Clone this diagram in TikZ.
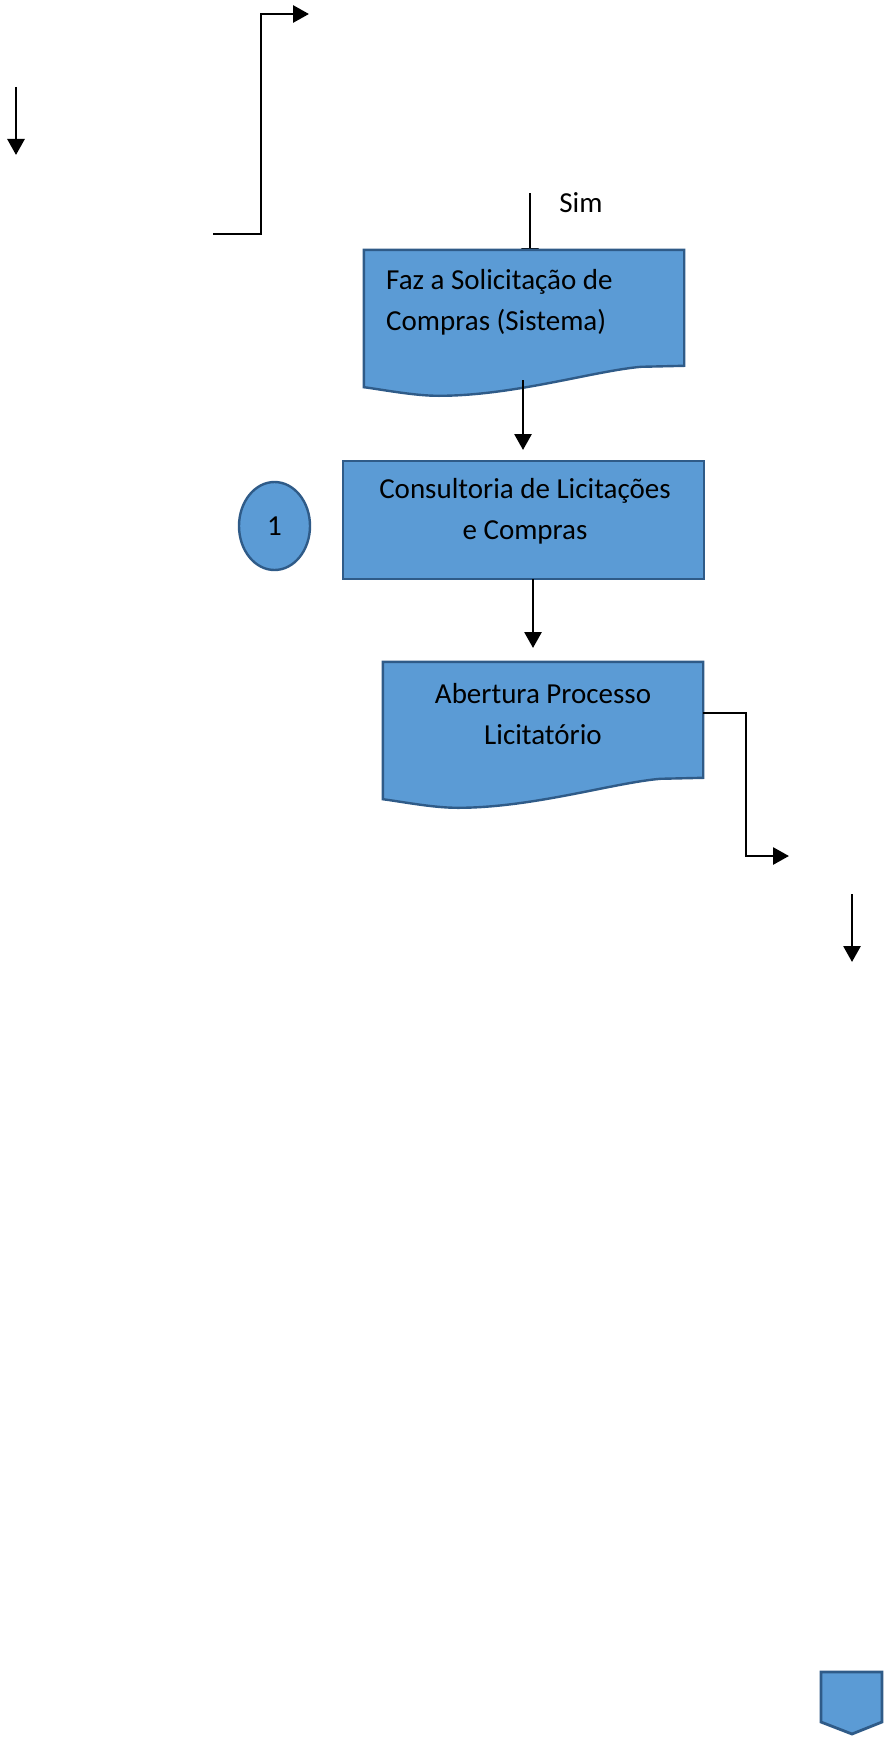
\documentclass[tikz,border=0pt]{standalone}
\usepackage{fontspec}
\setmainfont{Carlito}
\usetikzlibrary{arrows.meta,shapes.geometric}
\definecolor{boxfill}{HTML}{5B9BD5}
\definecolor{boxline}{HTML}{2F5B88}
\tikzset{
  conn/.style={line width=2.8pt, draw=black},
  tip/.style={-{Triangle[length=16pt,width=17pt]}},
  arr/.style={conn, tip},
  shapefill/.style={fill=boxfill, draw=boxline, line width=2.4pt},
  frame/.style={minimum width=320pt, minimum height=137pt, inner sep=0pt, draw=none},
  lbl/.style={font=\fontsize{29}{41}\selectfont, inner sep=0pt, text=black},
}
\newcommand{\docpath}[1]{%
  \path[shapefill] (#1.north west) -- (#1.north east) -- ([yshift=-116pt]#1.north east)
    -- ([xshift=-43pt,yshift=-117pt]#1.north east)
    .. controls ([xshift=-90pt,yshift=-121pt]#1.north east) and ([xshift=150pt,yshift=-146pt]#1.north west)
    .. ([xshift=75pt,yshift=-146pt]#1.north west)
    .. controls ([xshift=50pt,yshift=-146pt]#1.north west) and ([xshift=20pt,yshift=-140pt]#1.north west)
    .. (#1.south west) -- cycle;}
\begin{document}
\begin{tikzpicture}[x=1pt,y=-1pt]
\useasboundingbox (0,0) rectangle (889,1742);
% free coordinates
\coordinate (a1s) at (16,87);
\coordinate (a1e) at (16,155);
\coordinate (e1s) at (213,234);
\coordinate (e1m1) at (261,234);
\coordinate (e1m2) at (261,14);
\coordinate (e1e) at (309,14);
\coordinate (sims) at (530,193);
\coordinate (sime) at (530,264);
\coordinate (a2s) at (523,380);
\coordinate (a2e) at (523,450);
\coordinate (a3s) at (533,579);
\coordinate (a3e) at (533,648);
\coordinate (e2s) at (703,713);
\coordinate (e2m1) at (746,713);
\coordinate (e2m2) at (746,856);
\coordinate (e2e) at (789,856);
\coordinate (a5s) at (852,894);
\coordinate (a5e) at (852,962);

\draw[arr] (a1s) -- (a1e);
\draw[arr] (e1s) -- (e1m1) -- (e1m2) -- (e1e);
\node[lbl] (sim) at (581,203) {Sim};
\draw[arr] (sims) -- (sime);

% document 1
\node[frame] (doc1) at (524,318.5) {};
\docpath{doc1}
\node[lbl, align=left, anchor=west] (t1) at (386,302) {Faz a Solicitação de\\Compras (Sistema)};
\draw[arr] (a2s) -- (a2e);

% process box
\node[shapefill, minimum width=361pt, minimum height=118pt, inner sep=0pt] (proc) at (523.5,520) {};
\node[lbl, align=center] (t2) at (525,511) {Consultoria de Licitações\\e Compras};

% connector circle
\node[shapefill, ellipse, minimum width=71pt, minimum height=88pt, inner sep=0pt] (c1) at (274.5,526) {};
\node[lbl] (t1c) at (c1) {1};

\draw[arr] (a3s) -- (a3e);

% document 2
\node[frame] (doc2) at (543,730.5) {};
\docpath{doc2}
\node[lbl, align=center] (t3) at (543,714) {Abertura Processo\\Licitatório};

\draw[arr] (e2s) -- (e2m1) -- (e2m2) -- (e2e);
\draw[arr] (a5s) -- (a5e);

% off-page connector
\path[shapefill, line width=2.8pt] (821,1672) -- (882,1672) -- (882,1722) -- (852,1734) -- (821,1722) -- cycle;
\end{tikzpicture}
\end{document}
